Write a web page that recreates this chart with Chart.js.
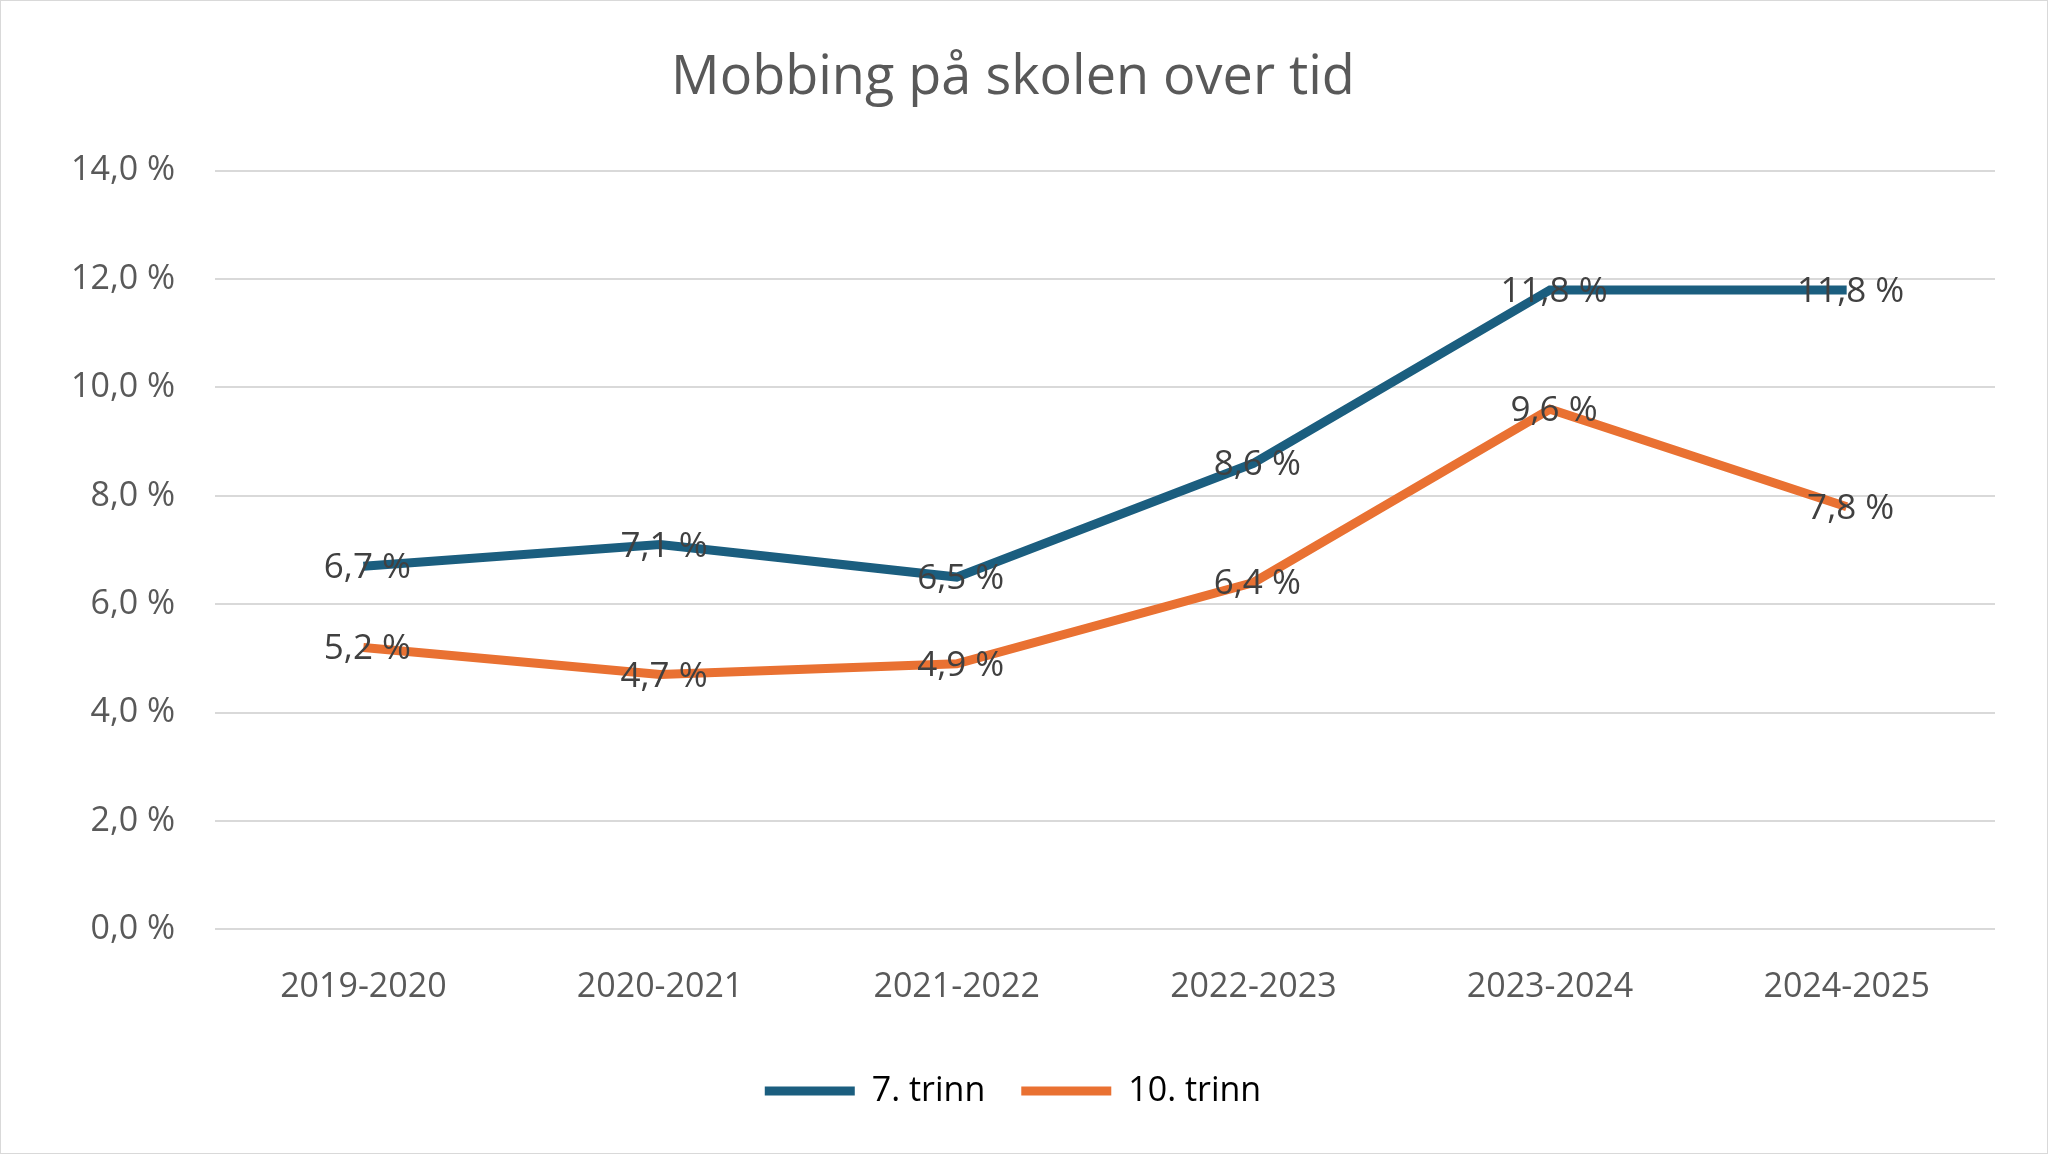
<!DOCTYPE html>
<html><head><meta charset="utf-8">
<script src="https://cdn.jsdelivr.net/npm/chart.js@4"></script>
<style>html,body{margin:0;padding:0;background:#fff}#w{position:absolute;left:0;top:0;width:2046px;height:1152px;border:1px solid #d9d9d9}</style>
</head><body><div id="w"><canvas id="c"></canvas></div>
<script>
const categories=["2019-2020","2020-2021","2021-2022","2022-2023","2023-2024","2024-2025"];
const trinn7=[6.7,7.1,6.5,8.6,11.8,11.8];
const trinn10=[5.2,4.7,4.9,6.4,9.6,7.8];
const seriesNames=["7. trinn","10. trinn"];
const fmt=v=>v.toFixed(1).replace('.',',')+' %';
const labelsPlugin={id:'lbl',afterDatasetsDraw(ch){const ctx=ch.ctx;ctx.save();ctx.font='35px "Open Sans"';ctx.fillStyle='#404040';ctx.textAlign='center';ctx.textBaseline='middle';
ch.data.datasets.forEach((ds,i)=>{ch.getDatasetMeta(i).data.forEach((p,j)=>{ctx.fillText(fmt(ds.data[j]),p.x+4,p.y+2);});});ctx.restore();}};
new Chart(document.getElementById('c'),{type:'line',
data:{labels:categories,datasets:[
{label:seriesNames[0],data:trinn7,borderColor:'#1B5E7F',backgroundColor:'#1B5E7F',borderWidth:9,pointRadius:0,tension:0},
{label:seriesNames[1],data:trinn10,borderColor:'#E97132',backgroundColor:'#E97132',borderWidth:9,pointRadius:0,tension:0}]},
options:{responsive:true,maintainAspectRatio:false,animation:false,
layout:{padding:{left:30,right:52,top:10,bottom:35}},
plugins:{title:{display:true,text:'Mobbing på skolen over tid',color:'#595959',font:{family:'Open Sans',size:54,weight:'normal'},padding:{top:35,bottom:60}},
legend:{position:'bottom',labels:{color:'#595959',font:{family:'Open Sans',size:34},boxWidth:90,boxHeight:9,padding:36,
generateLabels:ch=>ch.data.datasets.map((d,i)=>({text:d.label,fillStyle:d.borderColor,strokeStyle:d.borderColor,lineWidth:0,datasetIndex:i}))}},tooltip:{enabled:false}},
scales:{x:{offset:true,grid:{display:false},border:{display:false},ticks:{color:'#595959',font:{family:'Open Sans',size:34},padding:30}},
y:{min:0,max:14,ticks:{stepSize:2,callback:v=>fmt(v),color:'#595959',font:{family:'Open Sans',size:34},padding:40},grid:{color:'#d9d9d9',lineWidth:2,drawTicks:false},border:{display:false}}}},
plugins:[labelsPlugin]});
</script></body></html>
